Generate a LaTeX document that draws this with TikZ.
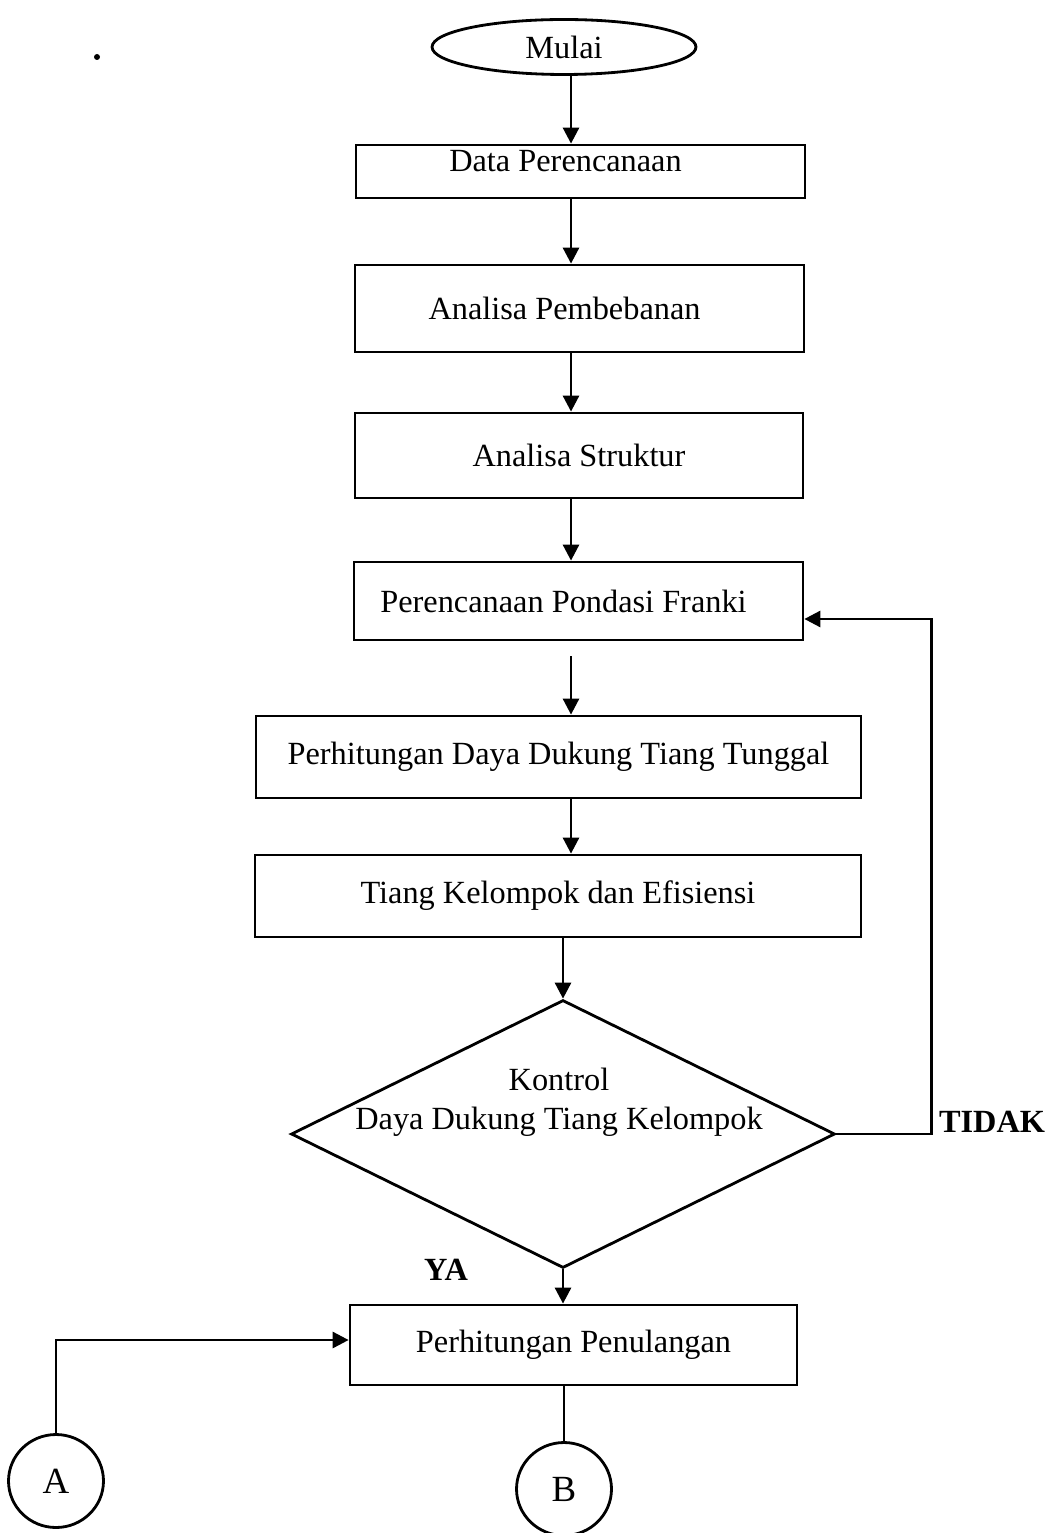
\documentclass[tikz,border=0pt]{standalone}
\usepackage{fontspec}
\setmainfont{Liberation Serif}
\usetikzlibrary{arrows.meta,shapes.geometric}

\begin{document}
\begin{tikzpicture}[x=0.02cm, y=-0.02cm,
  every node/.style={font=\fontsize{18.4}{22}\selectfont},
  proses/.style={rectangle, draw, line width=1.6pt, inner sep=0pt},
  terminal/.style={ellipse, draw, line width=1.6pt, inner sep=0pt},
  konektor/.style={ellipse, draw, line width=1.6pt, inner sep=0pt,
    minimum width=1.9cm, minimum height=1.86cm, font=\fontsize{21}{24}\selectfont},
  keputusan/.style={diamond, draw, line width=1.6pt, inner sep=0pt},
  arr/.style={line width=1.6pt, -{Triangle[length=0.32cm, width=0.32cm]}},
  garis/.style={line width=1.6pt}]
  \useasboundingbox (0,0) rectangle (1052,1533);
  \coordinate (sumbu) at (571,0);
  \fill (97,57) circle (3);
  \node[terminal, minimum width=5.28cm, minimum height=1.1cm] (mulai) at (564,47) {Mulai};
  \node[proses, minimum width=8.98cm, minimum height=1.06cm,
    label={[xshift=-0.3cm, yshift=0.2cm]center:Data Perencanaan}] (data) at (580.5,171.5) {};
  \node[proses, minimum width=8.98cm, minimum height=1.74cm,
    label={[xshift=-0.3cm]center:Analisa Pembebanan}] (beban) at (579.5,308.5) {};
  \node[proses, minimum width=8.96cm, minimum height=1.70cm] (struktur) at (579,455.5) {Analisa Struktur};
  \node[proses, minimum width=8.98cm, minimum height=1.56cm,
    label={[xshift=-0.3cm]center:Perencanaan Pondasi Franki}] (pondasi) at (578.5,601) {};
  \node[proses, minimum width=12.1cm, minimum height=1.64cm] (tunggal) at (558.5,757) {Perhitungan Daya Dukung Tiang Tunggal};
  \node[proses, minimum width=12.12cm, minimum height=1.64cm] (kelompok) at (558,896) {Tiang Kelompok dan Efisiensi};
  \node[keputusan, minimum width=10.88cm, minimum height=5.36cm,
    label={[align=center, yshift=0.64cm, xshift=-0.08cm]center:Kontrol\\Daya Dukung Tiang Kelompok}] (kontrol) at (563,1134) {};
  \node[proses, minimum width=8.94cm, minimum height=1.6cm] (penulangan) at (573.5,1345) {Perhitungan Penulangan};
  \node[konektor] (A) at (56,1481) {A};
  \node[konektor] (B) at (564,1489) {B};
  \node[font=\fontsize{18.4}{22}\selectfont\bfseries] (tidak) at (992,1122) {TIDAK};
  \node[font=\fontsize{18.4}{22}\selectfont\bfseries] (ya) at (446,1270) {YA};
  % alur utama
  \draw[arr] (mulai.south -| sumbu) -- (data.north -| sumbu);
  \draw[arr] (data.south -| sumbu) -- (beban.north -| sumbu);
  \draw[arr] (beban.south -| sumbu) -- (struktur.north -| sumbu);
  \draw[arr] (struktur.south -| sumbu) -- (pondasi.north -| sumbu);
  \draw[arr] ([yshift=-0.3cm]pondasi.south -| sumbu) -- (tunggal.north -| sumbu);
  \draw[arr] (tunggal.south -| sumbu) -- (kelompok.north -| sumbu);
  \draw[arr] (kelompok.south -| kontrol.north) -- (kontrol.north);
  \draw[arr] (kontrol.south) -- (kontrol.south |- penulangan.north);
  % kembali jika tidak
  \draw[arr] (kontrol.east) -- ++(95,0) |- ([yshift=-0.36cm]pondasi.east);
  % konektor
  \draw[arr] (A.north) |- ([yshift=0.1cm]penulangan.west);
  \draw[garis] (B.north |- penulangan.south) -- (B.north);
\end{tikzpicture}
\end{document}
